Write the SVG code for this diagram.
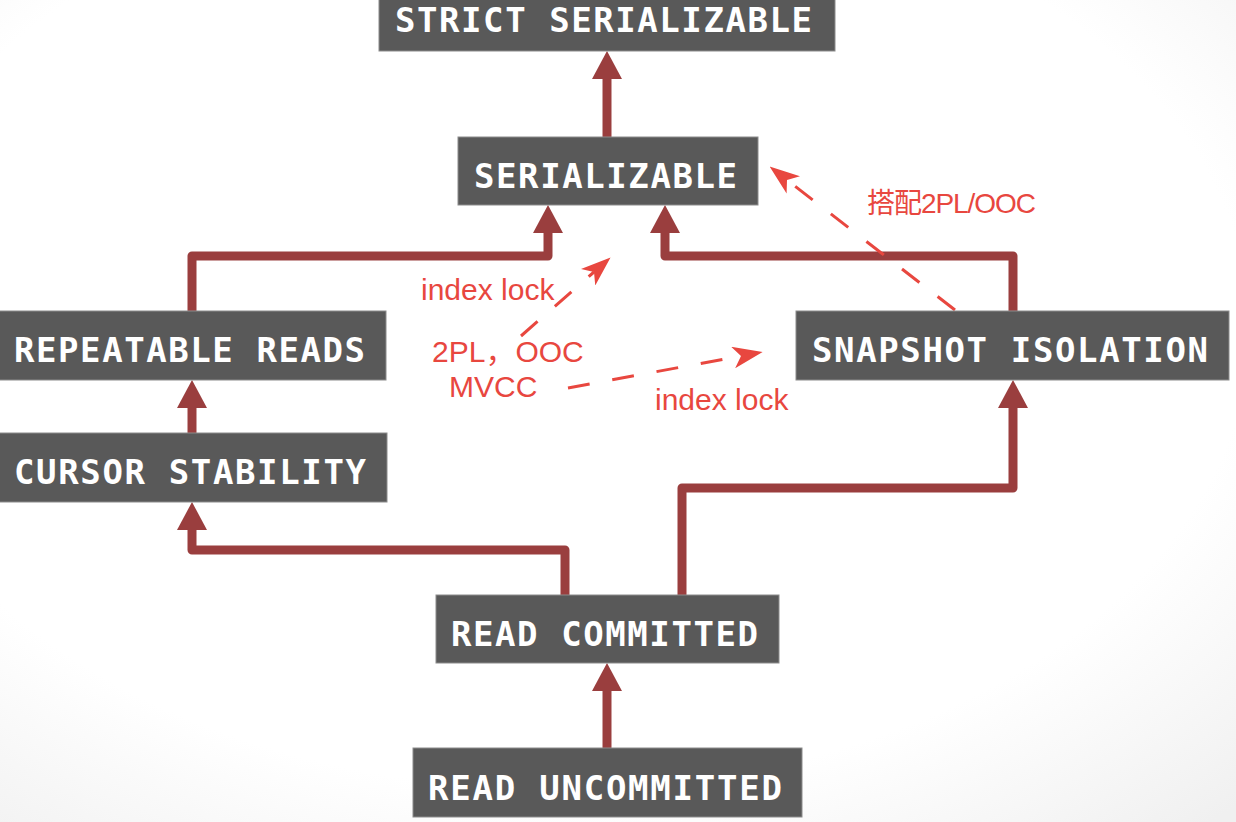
<svg xmlns="http://www.w3.org/2000/svg" width="1236" height="822" viewBox="0 0 1236 822">
<defs>
<radialGradient id="bg" cx="0.45" cy="0.4" r="0.8">
<stop offset="0.7" stop-color="#ffffff"/>
<stop offset="1" stop-color="#f0f0f0"/>
</radialGradient>
<marker id="ah" viewBox="0 0 28 30" refX="2" refY="15" markerWidth="28" markerHeight="30" markerUnits="userSpaceOnUse" orient="auto">
<path d="M0,0 L28,15 L0,30 z" fill="#9a3e3e"/>
</marker>
<marker id="rh" viewBox="0 0 30 22" refX="8" refY="11" markerWidth="30" markerHeight="22" markerUnits="userSpaceOnUse" orient="auto">
<path d="M0,0 L30,11 L0,22 L8,11 z" fill="#e8473f"/>
</marker>
</defs>
<style>
.box{fill:#595959;stroke:#8c8c8c;stroke-width:1}
.lbl{font-family:"DejaVu Sans Mono","Liberation Mono",monospace;font-weight:bold;font-size:34px;fill:#ffffff}
.conn{fill:none;stroke:#9a3e3e;stroke-width:9;stroke-linejoin:round;marker-end:url(#ah)}
.dash{fill:none;stroke:#e8473f;stroke-width:3;stroke-dasharray:22 23;marker-end:url(#rh)}
.note{font-family:"Liberation Sans","Noto Sans CJK SC",sans-serif;font-size:30px;fill:#e8473f}
</style>
<rect x="0" y="0" width="1236" height="822" fill="url(#bg)"/>
<g id="connectors">
<path class="conn" d="M607,748 V689"/>
<path class="conn" d="M565,595 V550 H192 V528"/>
<path class="conn" d="M682,595 V488 H1013 V406"/>
<path class="conn" d="M192,433 V406"/>
<path class="conn" d="M192,311 V256 H548 V231"/>
<path class="conn" d="M1013,311 V256 H665 V231"/>
<path class="conn" d="M607,137 V77"/>
<path class="dash" d="M521,336 L594,272"/>
<path class="dash" d="M568,388 L741,356"/>
<path class="dash" d="M955,310 L787,180"/>
</g>
<g id="strict-serializable">
<rect class="box" x="379" y="-2" width="456" height="53"/>
<text class="lbl" x="395" y="32" textLength="417">STRICT SERIALIZABLE</text>
</g>
<g id="serializable">
<rect class="box" x="458" y="137" width="300" height="68"/>
<text class="lbl" x="474" y="188" textLength="263">SERIALIZABLE</text>
</g>
<g id="repeatable-reads">
<rect class="box" x="-2" y="311" width="388" height="69"/>
<text class="lbl" x="14" y="362" textLength="351">REPEATABLE READS</text>
</g>
<g id="cursor-stability">
<rect class="box" x="-2" y="433" width="389" height="69"/>
<text class="lbl" x="14" y="484" textLength="352">CURSOR STABILITY</text>
</g>
<g id="snapshot-isolation">
<rect class="box" x="796" y="311" width="433" height="69"/>
<text class="lbl" x="812" y="362" textLength="396">SNAPSHOT ISOLATION</text>
</g>
<g id="read-committed">
<rect class="box" x="436" y="595" width="343" height="68"/>
<text class="lbl" x="451" y="646" textLength="307">READ COMMITTED</text>
</g>
<g id="read-uncommitted">
<rect class="box" x="413" y="748" width="389" height="69"/>
<text class="lbl" x="428" y="800" textLength="354">READ UNCOMMITTED</text>
</g>
<g id="labels">
<text class="note" x="421" y="300">index lock</text>
<text class="note" x="432" y="362">2PL，OOC</text>
<text class="note" x="449" y="397">MVCC</text>
<text class="note" x="655" y="410">index lock</text>
<text class="note" x="867" y="213" style="font-size:28px" textLength="169">搭配2PL/OOC</text>
</g>
</svg>
